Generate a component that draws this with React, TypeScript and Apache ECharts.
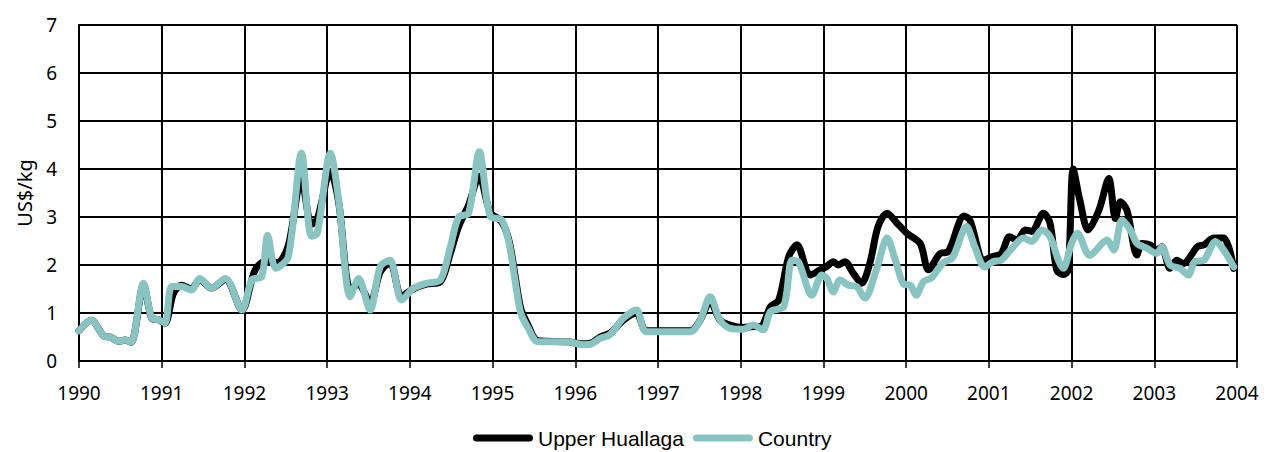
import React, { useEffect, useRef } from "react";
import * as echarts from "echarts";

const yearTicks = [1990, 1991, 1992, 1993, 1994, 1995, 1996, 1997, 1998, 1999, 2000, 2001, 2002, 2003, 2004];
const seriesNames = ["Upper Huallaga", "Country"];

const upperHuallaga: [number, number][] = [
  [1990.0, 0.63], [1990.15, 0.85], [1990.31, 0.51], [1990.38, 0.5], [1990.48, 0.41], [1990.56, 0.44], [1990.63, 0.39],
  [1990.78, 1.58], [1990.88, 0.89], [1990.96, 0.86], [1991.04, 0.79], [1991.14, 1.4], [1991.24, 1.58], [1991.36, 1.5],
  [1991.46, 1.7], [1991.6, 1.52], [1991.77, 1.7], [1991.97, 1.06], [1992.13, 1.9], [1992.28, 2.1], [1992.4, 2.05],
  [1992.53, 2.4], [1992.69, 3.8], [1992.81, 2.85], [1992.88, 2.95], [1993.04, 3.95], [1993.14, 3.3], [1993.28, 1.5],
  [1993.38, 1.6], [1993.52, 1.2], [1993.64, 1.85], [1993.76, 2.05], [1993.9, 1.35], [1994.04, 1.5], [1994.2, 1.6],
  [1994.37, 1.65], [1994.49, 2.25], [1994.59, 2.8], [1994.71, 3.25], [1994.84, 3.85], [1994.97, 3.1], [1995.11, 2.9],
  [1995.2, 2.5], [1995.27, 1.8], [1995.34, 1.1], [1995.42, 0.78], [1995.55, 0.42], [1995.9, 0.4], [1996.1, 0.36],
  [1996.2, 0.38], [1996.3, 0.5], [1996.42, 0.58], [1996.58, 0.85], [1996.74, 1.0], [1996.86, 0.63], [1997.39, 0.63],
  [1997.51, 0.85], [1997.63, 1.25], [1997.75, 0.85], [1997.87, 0.75], [1998.03, 0.7], [1998.15, 0.72], [1998.24, 0.72],
  [1998.36, 1.13], [1998.46, 1.27], [1998.58, 2.17], [1998.68, 2.42], [1998.84, 1.79], [1998.96, 1.9], [1999.04, 1.97],
  [1999.12, 2.07], [1999.18, 2.0], [1999.26, 2.07], [1999.36, 1.83], [1999.46, 1.62], [1999.56, 2.03], [1999.66, 2.8],
  [1999.77, 3.08], [1999.89, 2.87], [2000.01, 2.66], [2000.17, 2.45], [2000.27, 1.9], [2000.41, 2.24], [2000.51, 2.28],
  [2000.7, 3.02], [2000.77, 2.94], [2000.94, 2.1], [2001.04, 2.17], [2001.15, 2.24], [2001.25, 2.59], [2001.34, 2.52],
  [2001.44, 2.73], [2001.52, 2.7], [2001.66, 3.08], [2001.74, 2.87], [2001.82, 1.9], [2001.9, 1.8], [2001.96, 1.9],
  [2002.02, 4.0], [2002.1, 3.35], [2002.2, 2.73], [2002.33, 3.14], [2002.45, 3.8], [2002.53, 2.97], [2002.59, 3.32],
  [2002.67, 3.14], [2002.79, 2.21], [2002.85, 2.45], [2002.95, 2.42], [2003.03, 2.31], [2003.09, 2.38], [2003.19, 1.93],
  [2003.27, 2.1], [2003.35, 2.03], [2003.52, 2.38], [2003.6, 2.42], [2003.72, 2.56], [2003.84, 2.56], [2003.96, 1.93],
];

const country: [number, number][] = [
  [1990.0, 0.63], [1990.15, 0.85], [1990.31, 0.51], [1990.38, 0.5], [1990.48, 0.41], [1990.56, 0.44], [1990.63, 0.39],
  [1990.78, 1.62], [1990.88, 0.89], [1990.96, 0.86], [1991.04, 0.79], [1991.12, 1.55], [1991.24, 1.55], [1991.36, 1.48],
  [1991.46, 1.72], [1991.6, 1.52], [1991.77, 1.72], [1991.97, 1.06], [1992.09, 1.69], [1992.21, 1.76], [1992.28, 2.62],
  [1992.38, 1.93], [1992.53, 2.17], [1992.69, 4.33], [1992.81, 2.6], [1992.88, 2.66], [1993.04, 4.33], [1993.14, 3.35],
  [1993.28, 1.34], [1993.38, 1.72], [1993.52, 1.06], [1993.64, 1.96], [1993.76, 2.1], [1993.9, 1.27], [1994.04, 1.51],
  [1994.2, 1.62], [1994.37, 1.69], [1994.49, 2.38], [1994.59, 3.0], [1994.71, 3.08], [1994.84, 4.36], [1994.97, 3.02],
  [1995.11, 2.94], [1995.2, 2.45], [1995.27, 1.7], [1995.34, 1.0], [1995.42, 0.72], [1995.55, 0.4], [1995.9, 0.4],
  [1996.1, 0.34], [1996.2, 0.36], [1996.3, 0.47], [1996.42, 0.55], [1996.58, 0.89], [1996.74, 1.06], [1996.86, 0.61],
  [1997.39, 0.61], [1997.51, 0.85], [1997.63, 1.34], [1997.75, 0.85], [1997.87, 0.68], [1998.03, 0.66], [1998.15, 0.75],
  [1998.27, 0.65], [1998.36, 1.03], [1998.52, 1.13], [1998.62, 2.1], [1998.7, 2.06], [1998.86, 1.37], [1998.98, 1.79],
  [1999.04, 1.72], [1999.12, 1.44], [1999.2, 1.69], [1999.3, 1.58], [1999.4, 1.55], [1999.5, 1.31], [1999.64, 1.9],
  [1999.77, 2.56], [1999.87, 2.1], [1999.97, 1.6], [2000.05, 1.58], [2000.12, 1.37], [2000.21, 1.65], [2000.31, 1.74],
  [2000.45, 2.05], [2000.56, 2.15], [2000.73, 2.8], [2000.83, 2.38], [2000.95, 1.96], [2001.05, 2.07], [2001.15, 2.1],
  [2001.28, 2.35], [2001.42, 2.56], [2001.52, 2.49], [2001.64, 2.73], [2001.74, 2.59], [2001.84, 2.1], [2001.9, 1.93],
  [2002.0, 2.45], [2002.07, 2.66], [2002.22, 2.2], [2002.43, 2.52], [2002.51, 2.31], [2002.61, 2.94], [2002.71, 2.73],
  [2002.79, 2.45], [2002.91, 2.35], [2003.03, 2.24], [2003.09, 2.38], [2003.19, 2.0], [2003.31, 1.93], [2003.41, 1.79],
  [2003.49, 2.07], [2003.6, 2.1], [2003.74, 2.49], [2003.84, 2.31], [2003.96, 1.96],
];

const pillIcon = "path://M3.5,0 L56.5,0 A3.5,3.5 0 0 1 56.5,7 L3.5,7 A3.5,3.5 0 0 1 3.5,0 Z";

export default function App() {
  const ref = useRef<HTMLDivElement>(null);
  useEffect(() => {
    if (!ref.current) return;
    const chart = echarts.init(ref.current, null, { renderer: "svg" });
    const axisFont = { fontFamily: "Noto Sans", fontSize: 19, color: "#000" };
    chart.setOption({
      animation: false,
      backgroundColor: "#fff",
      grid: { left: 79, right: 30, top: 25, bottom: 91, containLabel: false },
      legend: {
        left: 473,
        top: 427,
        itemWidth: 60,
        itemHeight: 7,
        itemGap: 9,
        padding: 0,
        textStyle: { fontFamily: "Liberation Sans", fontSize: 21, color: "#000", lineHeight: 22 },
        data: [
          { name: seriesNames[0], icon: pillIcon },
          { name: seriesNames[1], icon: pillIcon },
        ],
      },
      xAxis: {
        type: "value",
        min: yearTicks[0],
        max: yearTicks[yearTicks.length - 1],
        interval: 1,
        axisLine: { show: true, lineStyle: { color: "#000", width: 2 } },
        axisTick: { show: true, length: 7, lineStyle: { color: "#000", width: 1.5 } },
        splitLine: { show: true, lineStyle: { color: "#000", width: 2 } },
        axisLabel: { ...axisFont, margin: 22, formatter: (v: number) => String(v) },
      },
      yAxis: {
        type: "value",
        min: 0,
        max: 7,
        interval: 1,
        name: "US$/kg",
        nameLocation: "middle",
        nameRotate: 90,
        nameGap: 45,
        nameTextStyle: { fontFamily: "Noto Sans", fontSize: 20, color: "#000" },
        axisLine: { show: true, lineStyle: { color: "#000", width: 2 } },
        axisTick: { show: false },
        splitLine: { show: true, lineStyle: { color: "#000", width: 2 } },
        axisLabel: { ...axisFont, margin: 22 },
      },
      series: [
        {
          name: seriesNames[0],
          type: "line",
          data: upperHuallaga,
          smooth: 0.3,
          showSymbol: false,
          symbol: "none",
          itemStyle: { color: "#000" },
          lineStyle: { color: "#000", width: 7, cap: "round", join: "round" },
        },
        {
          name: seriesNames[1],
          type: "line",
          data: country,
          smooth: 0.3,
          showSymbol: false,
          symbol: "none",
          itemStyle: { color: "#88c5c2" },
          lineStyle: { color: "#88c5c2", width: 7, cap: "round", join: "round" },
        },
      ],
    });
    return () => chart.dispose();
  }, []);
  return (
    <div
      ref={ref}
      style={{ position: "fixed", left: 0, top: 0, width: 1267, height: 452, background: "#fff" }}
    />
  );
}
